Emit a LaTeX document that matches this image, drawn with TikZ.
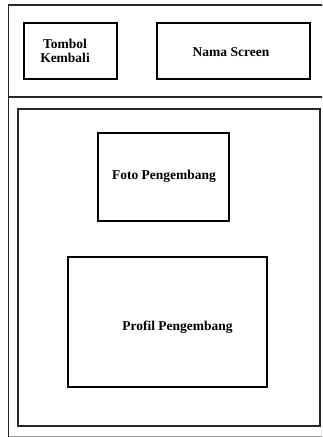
\documentclass[tikz,border=0pt]{standalone}
\usepackage{fontspec}
\setmainfont{Liberation Serif}
\begin{document}
\begin{tikzpicture}[x=1pt,y=-1pt,
  frameline/.style={draw=black!85,line width=1.3pt},
  boxline/.style={draw=black,line width=1.8pt},
  lbl/.style={font=\bfseries\fontsize{13.5}{15}\selectfont,align=center,inner sep=0pt}]
\useasboundingbox (0,0) rectangle (322,437);
\begin{scope}
\clip (0,0) rectangle (322,437);
% outer screen frame
\draw[frameline] (330,5) -- (8.5,5) -- (8.5,440);
\draw[draw=black!40,line width=1pt] (8.5,436) -- (330,436);
\draw[frameline] (8.5,97) -- (330,97);
\end{scope}
% header boxes
\draw[boxline] (24,23) rectangle (117,79);
\node[lbl] (tbl) at (65,51) {Tombol\\[-1pt]Kembali};
\draw[boxline] (157,23) rectangle (310,79);
\node[lbl] (ns) at (231,52) {Nama Screen};
% content area
\draw[frameline,line width=1.5pt] (18,109) rectangle (320,426);
\draw[boxline] (98,133) rectangle (229,221);
\node[lbl] (fp) at (164,176) {Foto Pengembang};
\draw[boxline] (68,257) rectangle (267,387);
\node[lbl] (pp) at (177.5,327) {Profil Pengembang};
\end{tikzpicture}
\end{document}
